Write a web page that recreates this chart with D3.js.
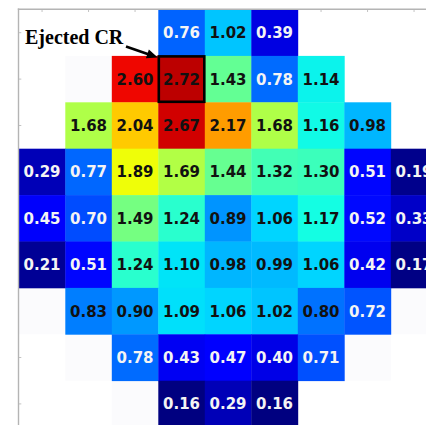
<!DOCTYPE html>
<html>
<head>
<meta charset="utf-8">
<script src="https://cdn.jsdelivr.net/npm/d3@7"></script>
<style>
  html, body { margin: 0; padding: 0; background: #fff; }
  svg { display: block; }
</style>
</head>
<body>
<svg id="chart" width="426" height="425"></svg>
<script>
// Per-row values of the 9x9 map (null = no measurement)
const row0 = [null, null, null, 0.76, 1.02, 0.39, null, null, null];
const row1 = [null, null, 2.60, 2.72, 1.43, 0.78, 1.14, null, null];
const row2 = [null, 1.68, 2.04, 2.67, 2.17, 1.68, 1.16, 0.98, null];
const row3 = [0.29, 0.77, 1.89, 1.69, 1.44, 1.32, 1.30, 0.51, 0.19];
const row4 = [0.45, 0.70, 1.49, 1.24, 0.89, 1.06, 1.17, 0.52, 0.33];
const row5 = [0.21, 0.51, 1.24, 1.10, 0.98, 0.99, 1.06, 0.42, 0.17];
const row6 = [null, 0.83, 0.90, 1.09, 1.06, 1.02, 0.80, 0.72, null];
const row7 = [null, null, 0.78, 0.43, 0.47, 0.40, 0.71, null, null];
const row8 = [null, null, null, 0.16, 0.29, 0.16, null, null, null];
const rows = [row0, row1, row2, row3, row4, row5, row6, row7, row8];

// Empty positions that still carry a faint background
const faintCells = [[1, 1], [6, 0], [7, 1], [8, 2], [7, 7], [6, 8]];

// Highlighted cell (row, col) and its annotation
const ejectedCell = [1, 3];
const ejectedLabel = "Ejected CR";

const colorMin = 0.16, colorMax = 2.86;

const svg = d3.select("#chart");
const n = 9;
const cellW = 46.5, cellH = 46.4;
const x0 = 18.8, y0 = 9.5;

const x = d3.scaleBand().domain(d3.range(n)).range([x0, x0 + n * cellW]).padding(0);
const y = d3.scaleBand().domain(d3.range(n)).range([y0, y0 + n * cellH]).padding(0);

// matplotlib-style "jet" colormap
const jetR = d3.scaleLinear().domain([0, 0.35, 0.66, 0.89, 1]).range([0, 0, 1, 1, 0.5]).clamp(true);
const jetG = d3.scaleLinear().domain([0, 0.125, 0.375, 0.64, 0.91, 1]).range([0, 0, 1, 1, 0, 0]).clamp(true);
const jetB = d3.scaleLinear().domain([0, 0.11, 0.34, 0.65, 1]).range([0.5, 1, 1, 0, 0]).clamp(true);
const norm = d3.scaleLinear().domain([colorMin, colorMax]).range([0, 1]).clamp(true);
const color = v => {
  const t = norm(v);
  return d3.rgb(jetR(t) * 255, jetG(t) * 255, jetB(t) * 255).formatHex();
};

const cells = [];
rows.forEach((r, i) => r.forEach((v, j) => { if (v !== null) cells.push({ i, j, v }); }));

// frame ticks sit underneath the map cells
const frame = svg.append("g").attr("stroke", "#b4b4b4").attr("fill", "none");
frame.selectAll("line.tx").data(d3.range(n)).join("line")
  .attr("class", "tx")
  .attr("x1", d => x(d) + x.bandwidth() / 2).attr("x2", d => x(d) + x.bandwidth() / 2)
  .attr("y1", y0).attr("y2", y0 + 2.5).attr("stroke-width", 0.8);
frame.selectAll("line.ty").data(d3.range(n)).join("line")
  .attr("class", "ty")
  .attr("y1", d => y(d) + y.bandwidth() / 2).attr("y2", d => y(d) + y.bandwidth() / 2)
  .attr("x1", x0).attr("x2", x0 + 2.5).attr("stroke-width", 0.8);

const plot = svg.append("g");

// faint masked cells
plot.selectAll("rect.faint").data(faintCells).join("rect")
  .attr("class", "faint")
  .attr("x", d => x(d[1])).attr("y", d => y(d[0]))
  .attr("width", x.bandwidth()).attr("height", y.bandwidth())
  .attr("fill", "#fbfbfd");

// value cells
plot.selectAll("rect.cell").data(cells).join("rect")
  .attr("class", "cell")
  .attr("x", d => x(d.j)).attr("y", d => y(d.i))
  .attr("width", x.bandwidth() + 0.4).attr("height", y.bandwidth() + 0.4)
  .attr("fill", d => color(d.v));

// value labels
plot.selectAll("text.val").data(cells).join("text")
  .attr("class", "val")
  .attr("x", d => x(d.j) + x.bandwidth() / 2)
  .attr("y", d => y(d.i) + y.bandwidth() / 2)
  .attr("dy", "0.36em")
  .attr("text-anchor", "middle")
  .attr("font-family", "DejaVu Sans, sans-serif")
  .attr("font-weight", "bold")
  .attr("font-size", 15)
  .attr("fill", d => d.v < 0.795 ? "#f4f4f4" : "#111")
  .text(d => d.v.toFixed(2));

// top and left spines
const spines = svg.append("g").attr("stroke", "#b4b4b4").attr("fill", "none");
spines.append("line").attr("x1", x0 - 1).attr("x2", 426).attr("y1", y0 - 0.3).attr("y2", y0 - 0.3).attr("stroke-width", 1.4);
spines.append("line").attr("x1", x0 - 0.3).attr("x2", x0 - 0.3).attr("y1", y0 - 1).attr("y2", 425).attr("stroke-width", 1.4);

// highlight of the ejected cell
svg.append("rect")
  .attr("x", x(ejectedCell[1]) + 0.5).attr("y", y(ejectedCell[0]) + 0.5)
  .attr("width", x.bandwidth() - 1).attr("height", y.bandwidth() - 1)
  .attr("fill", "none").attr("stroke", "#000").attr("stroke-width", 2.6);

// annotation text and arrow
svg.append("text")
  .attr("x", 25).attr("y", 44)
  .attr("font-family", "Liberation Serif, Times New Roman, serif")
  .attr("font-weight", "bold")
  .attr("font-size", 20)
  .attr("fill", "#000")
  .text(ejectedLabel);

const tail = [126, 46.5];
const tip = [x(ejectedCell[1]) - 0.5, y(ejectedCell[0]) + 1.5];
const dx = tip[0] - tail[0], dy = tip[1] - tail[1];
const len = Math.hypot(dx, dy);
const ux = dx / len, uy = dy / len;
const headL = 11, headW = 4.6;
const base = [tip[0] - ux * headL, tip[1] - uy * headL];
svg.append("line")
  .attr("x1", tail[0]).attr("y1", tail[1])
  .attr("x2", base[0] + ux * 1).attr("y2", base[1] + uy * 1)
  .attr("stroke", "#000").attr("stroke-width", 2.6);
svg.append("path")
  .attr("d", `M${tip[0]},${tip[1]} L${base[0] - uy * headW},${base[1] + ux * headW} L${base[0] + uy * headW},${base[1] - ux * headW} Z`)
  .attr("fill", "#000");
</script>
</body>
</html>
